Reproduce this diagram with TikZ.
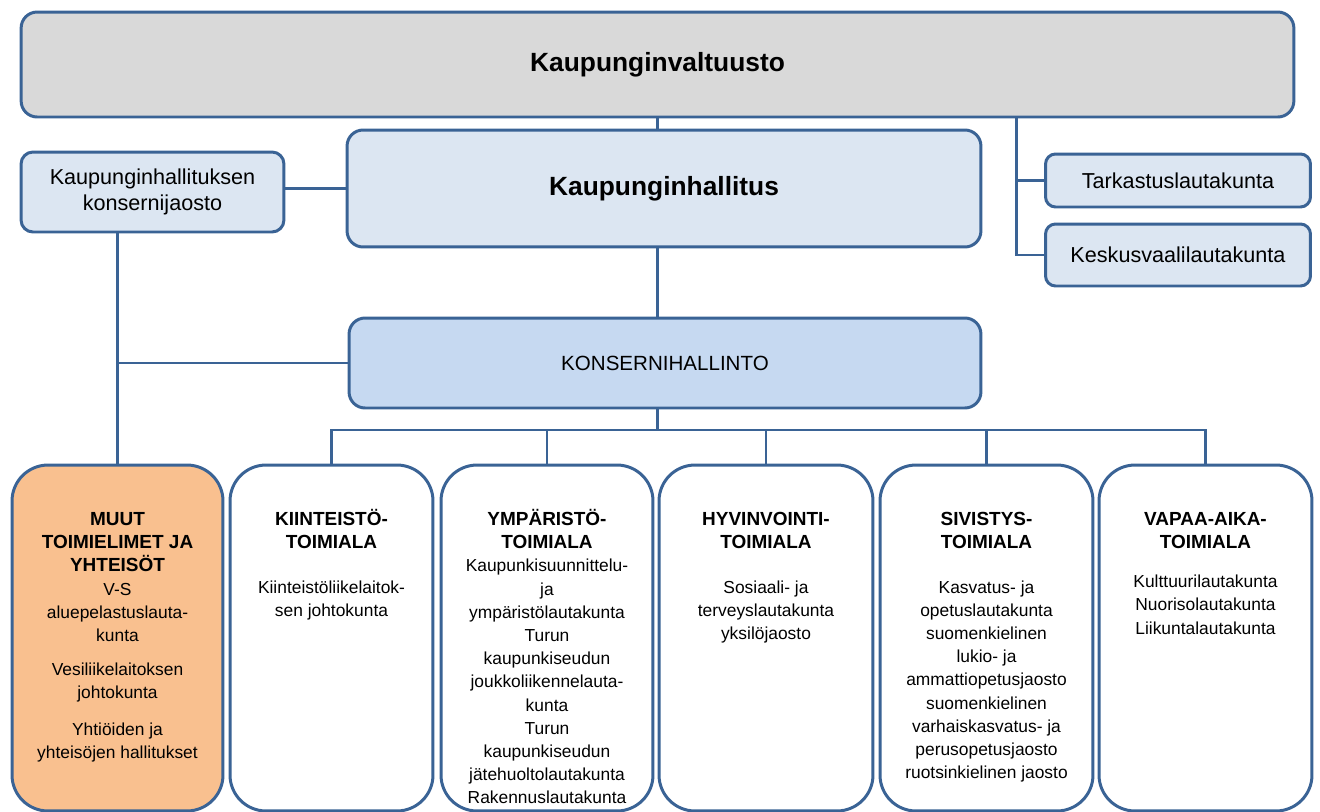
\documentclass[tikz,border=0pt]{standalone}
\usepackage{fontspec}
\setmainfont{Liberation Sans}
\definecolor{orgline}{HTML}{3A6395}
\definecolor{valtfill}{HTML}{D9D9D9}
\definecolor{hallfill}{HTML}{DCE6F2}
\definecolor{konsfill}{HTML}{C6D9F1}
\definecolor{muutfill}{HTML}{F9C08F}
\newcommand\ttl[1]{{\fontsize{10.8}{13.2}\selectfont\bfseries\vphantom{Ö}#1}}
\begin{document}
\begin{tikzpicture}[x=0.02cm, y=-0.02cm,
  box/.style={draw=orgline, line width=1.7pt, rounded corners=0.32cm, inner sep=0pt},
  unit/.style={box, fill=white, rounded corners=0.72cm, minimum height=6.92cm},
  unittext/.style={anchor=north, align=center, inner sep=0pt, yshift=-0.91cm, font=\fontsize{9.9}{13.2}\selectfont},
  conn/.style={draw=orgline, line width=1.7pt}]
  \useasboundingbox (0,0) rectangle (1320,812);
  \node[box, fill=valtfill, minimum width=25.46cm, minimum height=2.1cm, font=\fontsize{15}{18}\selectfont\bfseries] (valtuusto) at (657.5,64.5) {Kaupunginvaltuusto};
  \node[box, fill=hallfill, minimum width=12.68cm, minimum height=2.34cm, font=\fontsize{15}{18}\selectfont\bfseries] (hallitus) at (664,188.5) {Kaupunginhallitus};
  \node[box, fill=hallfill, rounded corners=0.24cm, minimum width=5.26cm, minimum height=1.6cm, align=center, font=\fontsize{12.3}{14.7}\selectfont] (jaosto) at (152.5,192) {Kaupunginhallituksen\\konsernijaosto};
  \node[box, fill=konsfill, minimum width=12.64cm, minimum height=1.8cm, font=\fontsize{11.7}{14}\selectfont] (konserni) at (665,363) {KONSERNIHALLINTO};
  \node[box, fill=hallfill, rounded corners=0.2cm, minimum width=5.3cm, minimum height=1.06cm, font=\fontsize{12.3}{14.7}\selectfont] (tarkastus) at (1178,180.5) {Tarkastuslautakunta};
  \node[box, fill=hallfill, rounded corners=0.2cm, minimum width=5.3cm, minimum height=1.24cm, font=\fontsize{12.3}{14.7}\selectfont] (keskus) at (1178,255) {Keskusvaalilautakunta};

  \node[unit, fill=muutfill, minimum width=4.22cm] (muut) at (117.5,638) {};
  \node[unit, minimum width=4.06cm] (kiint) at (331.5,638) {};
  \node[unit, minimum width=4.24cm] (ymp) at (547,638) {};
  \node[unit, minimum width=4.28cm] (hyv) at (766,638) {};
  \node[unit, minimum width=4.26cm] (siv) at (986.5,638) {};
  \node[unit, minimum width=4.26cm] (vapaa) at (1205.5,638) {};
  \node[unittext] (muuttext) at (muut.north) {\ttl{MUUT}\\\ttl{TOIMIELIMET JA}\\\ttl{YHTEISÖT}\\V-S\\aluepelastuslauta-\\kunta\\[6pt]Vesiliikelaitoksen\\johtokunta\\[8pt]Yhtiöiden ja\\yhteisöjen hallitukset};
  \node[unittext] (kiinttext) at (kiint.north) {\ttl{KIINTEISTÖ-}\\\ttl{TOIMIALA}\\[12pt]Kiinteistöliikelaitok-\\sen johtokunta};
  \node[unittext] (ymptext) at (ymp.north) {\ttl{YMPÄRISTÖ-}\\\ttl{TOIMIALA}\\Kaupunkisuunnittelu-\\ja\\ympäristölautakunta\\Turun\\kaupunkiseudun\\joukkoliikennelauta-\\kunta\\Turun\\kaupunkiseudun\\jätehuoltolautakunta\\Rakennuslautakunta};
  \node[unittext] (hyvtext) at (hyv.north) {\ttl{HYVINVOINTI-}\\\ttl{TOIMIALA}\\[12pt]Sosiaali- ja\\terveyslautakunta\\yksilöjaosto};
  \node[unittext] (sivtext) at (siv.north) {\ttl{SIVISTYS-}\\\ttl{TOIMIALA}\\[12pt]Kasvatus- ja\\opetuslautakunta\\suomenkielinen\\lukio- ja\\ammattiopetusjaosto\\suomenkielinen\\varhaiskasvatus- ja\\perusopetusjaosto\\ruotsinkielinen jaosto};
  \node[unittext] (vapaatext) at (vapaa.north) {\ttl{VAPAA-AIKA-}\\\ttl{TOIMIALA}\\[9pt]Kulttuurilautakunta\\Nuorisolautakunta\\Liikuntalautakunta};

  \draw[conn] (valtuusto.south) -- (hallitus.north -| valtuusto.south);
  \draw[conn] (hallitus.south -| valtuusto.south) -- (konserni.north -| valtuusto.south);
  \draw[conn] (jaosto.east |- hallitus.west) -- (hallitus.west);
  \draw[conn] (muut.north |- jaosto.south) -- (muut.north);
  \draw[conn] (muut.north |- konserni.west) -- (konserni.west);
  \draw[conn] ([xshift=-0.56cm]tarkastus.west |- valtuusto.south) |- (keskus.west);
  \draw[conn] ([xshift=-0.56cm]tarkastus.west) -- (tarkastus.west);
  \coordinate (bar) at (0,430);
  \draw[conn] (konserni.south -| valtuusto.south) -- (bar -| valtuusto.south);
  \draw[conn] (kiint.north) |- (vapaa.north |- bar) -- (vapaa.north);
  \draw[conn] (ymp.north) -- (ymp.north |- bar);
  \draw[conn] (hyv.north) -- (hyv.north |- bar);
  \draw[conn] (siv.north) -- (siv.north |- bar);
\end{tikzpicture}
\end{document}
